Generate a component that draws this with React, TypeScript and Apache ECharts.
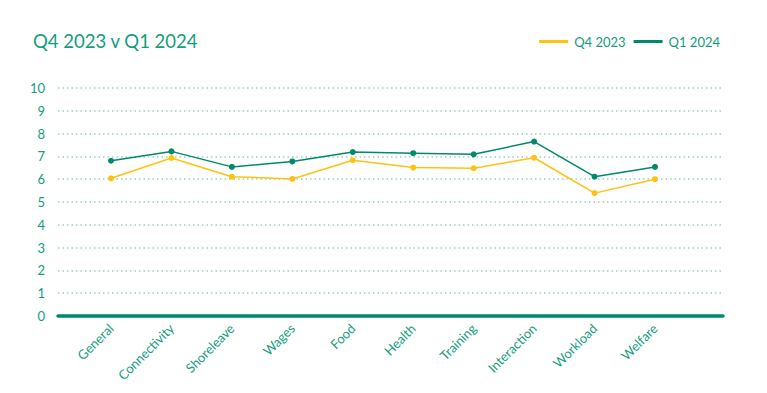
import React, { useEffect, useRef } from "react";
import * as echarts from "echarts";

const categories = ["General", "Connectivity", "Shoreleave", "Wages", "Food", "Health", "Training", "Interaction", "Workload", "Welfare"];
const q4_2023 = [6.04, 6.93, 6.11, 6.01, 6.83, 6.51, 6.48, 6.94, 5.39, 6.0];
const q1_2024 = [6.81, 7.22, 6.54, 6.78, 7.19, 7.14, 7.09, 7.65, 6.11, 6.54];
const seriesNames = ["Q4 2023", "Q1 2024"];

const GREEN = "#00896b";
const YELLOW = "#ffc20e";
const TEXT = "#139d7e";
const FONT = "Lato";

export default function App() {
  const ref = useRef<HTMLDivElement>(null);
  useEffect(() => {
    if (!ref.current) return;
    const chart = echarts.init(ref.current, undefined, { renderer: "svg" });
    chart.setOption({
      animation: false,
      backgroundColor: "#ffffff",
      textStyle: { fontFamily: FONT },
      title: {
        text: "Q4 2023 v Q1 2024",
        left: 28,
        top: 26,
        textStyle: { color: TEXT, fontSize: 18.5, fontWeight: "normal", fontFamily: FONT },
      },
      legend: {
        right: 42,
        top: 30,
        itemWidth: 29,
        itemHeight: 3,
        itemGap: 8,
        icon: "rect",
        data: seriesNames,
        textStyle: { color: TEXT, fontSize: 13, fontFamily: FONT, padding: [0, 0, 0, 1] },
      },
      grid: [
        { left: 58, right: 44, top: 88, bottom: 77 },
        { left: 80.8, right: 81.8, top: 88, bottom: 77 },
      ],
      xAxis: [
        {
          gridIndex: 0,
          type: "value",
          min: 0,
          max: 1,
          axisLine: { show: true, lineStyle: { color: GREEN, width: 3.5 } },
          axisTick: { show: false },
          axisLabel: { show: false },
          splitLine: { show: false },
        },
        {
          gridIndex: 1,
          type: "category",
          data: categories,
          boundaryGap: true,
          axisLine: { show: false },
          axisTick: { show: false },
          axisLabel: {
            rotate: 45,
            color: TEXT,
            fontSize: 13,
            fontFamily: FONT,
            margin: 10,
            interval: 0,
          },
        },
      ],
      yAxis: [
        {
          gridIndex: 0,
          type: "value",
          min: 0,
          max: 10,
          interval: 1,
          axisLine: { show: false },
          axisTick: { show: false },
          axisLabel: { color: TEXT, fontSize: 13, fontFamily: FONT, margin: 13 },
          splitLine: { show: true, lineStyle: { color: "#9fd0c2", width: 1.5, type: [1.5, 3] } },
        },
        {
          gridIndex: 1,
          type: "value",
          min: 0,
          max: 10,
          show: false,
          splitLine: { show: false },
        },
      ],
      series: [
        {
          name: seriesNames[0],
          type: "line",
          xAxisIndex: 1,
          yAxisIndex: 1,
          data: q4_2023,
          color: YELLOW,
          symbol: "circle",
          symbolSize: 6,
          lineStyle: { color: YELLOW, width: 1.5 },
          itemStyle: { color: YELLOW },
        },
        {
          name: seriesNames[1],
          type: "line",
          xAxisIndex: 1,
          yAxisIndex: 1,
          data: q1_2024,
          color: GREEN,
          symbol: "circle",
          symbolSize: 6,
          lineStyle: { color: GREEN, width: 1.5 },
          itemStyle: { color: GREEN },
        },
      ],
    });
    return () => chart.dispose();
  }, []);
  return <div ref={ref} style={{ position: "absolute", left: 0, top: 0, width: 767, height: 393 }} />;
}
